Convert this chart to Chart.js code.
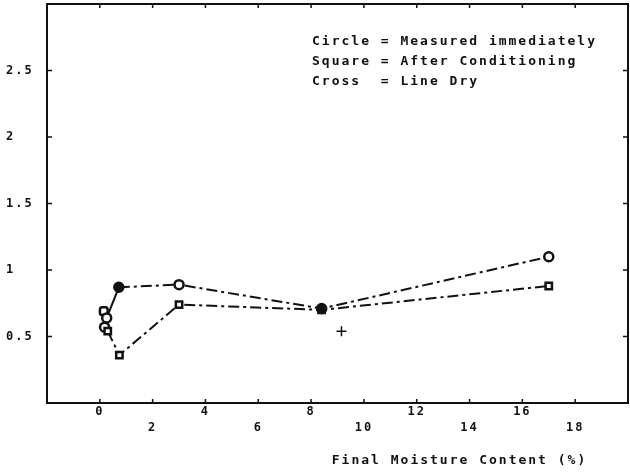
<!DOCTYPE html>
<html>
<head>
<meta charset="utf-8">
<title>Final Moisture Content</title>
<script src="https://cdn.jsdelivr.net/npm/chart.js@4.4.1/dist/chart.umd.min.js"></script>
<style>
  html, body { margin: 0; padding: 0; background: #fff; }
  #wrap { width: 630px; height: 474px; }
</style>
</head>
<body>
<div id="wrap"><canvas id="moisture"></canvas></div>
<script>
// measured immediately (circles), joined by the dash-dot line
const circleX = [0.26, 0.72, 3.0, 8.4, 17.0];
const circleY = [0.64, 0.87, 0.89, 0.71, 1.10];
// after conditioning (squares)
const squareX = [0.30, 0.74, 3.0, 8.4, 17.0];
const squareY = [0.54, 0.36, 0.74, 0.70, 0.88];
// loose readings near zero moisture, not joined
const looseCircleX = [0.18];
const looseCircleY = [0.57];
const looseSquareX = [0.15];
const looseSquareY = [0.69];
// line dry (cross)
const crossX = [9.15];
const crossY = [0.54];

const xTicks = [0, 2, 4, 6, 8, 10, 12, 14, 16, 18];
const yTicks = [0.5, 1, 1.5, 2, 2.5];
const legendLines = [
    "Circle = Measured immediately",
    "Square = After Conditioning",
    "Cross  = Line Dry"
];
const xTitle = "Final Moisture Content (%)";

const mono = "'DejaVu Sans Mono', monospace";
const ink = "#111";

function toPoints(xs, ys) {
    return xs.map((x, i) => ({ x: x, y: ys[i] }));
}

// frame, inward ticks and the free text
const framePlugin = {
    id: "frame",
    beforeDraw(chart) {
        chart.ctx.letterSpacing = "2px";
    },
    afterDraw(chart) {
        const ctx = chart.ctx;
        const area = chart.chartArea;
        const xs = chart.scales.x;
        const ys = chart.scales.y;
        ctx.save();
        ctx.strokeStyle = ink;
        ctx.lineWidth = 2;
        ctx.strokeRect(area.left, area.top, area.right - area.left, area.bottom - area.top);
        ctx.lineWidth = 1.5;
        ctx.beginPath();
        xTicks.forEach(v => {
            const px = xs.getPixelForValue(v);
            ctx.moveTo(px, area.bottom);
            ctx.lineTo(px, area.bottom - 4);
            ctx.moveTo(px, area.top);
            ctx.lineTo(px, area.top + 4);
        });
        yTicks.forEach(v => {
            const py = ys.getPixelForValue(v);
            ctx.moveTo(area.left, py);
            ctx.lineTo(area.left + 5, py);
            ctx.moveTo(area.right, py);
            ctx.lineTo(area.right - 5, py);
        });
        ctx.stroke();

        ctx.fillStyle = ink;
        ctx.letterSpacing = "2px";
        ctx.font = "bold 13px " + mono;
        ctx.textBaseline = "middle";
        ctx.textAlign = "left";
        legendLines.forEach((t, i) => {
            ctx.fillText(t, area.left + 265, area.top + 38 + i * 20);
        });
        ctx.textAlign = "center";
        ctx.fillText(xTitle, area.left + (area.right - area.left) * 0.71, 461);
        ctx.restore();
    }
};

const context = document.getElementById("moisture").getContext("2d");

const dashDot = [11, 4, 3, 4];

new Chart(context, {
    type: "scatter",
    data: {
        datasets: [
            {
                label: "Measured immediately",
                data: toPoints(circleX, circleY),
                showLine: true,
                borderColor: ink,
                borderWidth: 2,
                borderDash: dashDot,
                segment: { borderDash: c => c.p0DataIndex === 0 ? [] : dashDot },
                pointStyle: "circle",
                pointRadius: 4.5,
                pointBorderWidth: 2.5,
                pointBorderColor: ink,
                pointBackgroundColor: ["#fff", ink, "#fff", ink, "#fff"]
            },
            {
                label: "After Conditioning",
                data: toPoints(squareX, squareY),
                showLine: true,
                borderColor: ink,
                borderWidth: 2,
                borderDash: dashDot,
                pointStyle: "rect",
                pointRadius: 4.5,
                pointBorderWidth: 2.5,
                pointBorderColor: ink,
                pointBackgroundColor: ["#fff", "#fff", "#fff", ink, "#fff"]
            },
            {
                label: "Measured immediately (loose)",
                data: toPoints(looseCircleX, looseCircleY),
                pointStyle: "circle",
                pointRadius: 4.5,
                pointBorderWidth: 2.5,
                pointBorderColor: ink,
                pointBackgroundColor: "#fff"
            },
            {
                label: "After Conditioning (loose)",
                data: toPoints(looseSquareX, looseSquareY),
                pointStyle: "rectRounded",
                pointRadius: 4.5,
                pointBorderWidth: 2.5,
                pointBorderColor: ink,
                pointBackgroundColor: "#fff"
            },
            {
                label: "Line Dry",
                data: toPoints(crossX, crossY),
                pointStyle: "cross",
                pointRadius: 5,
                pointBorderWidth: 1.5,
                pointBorderColor: ink
            }
        ]
    },
    options: {
        responsive: true,
        maintainAspectRatio: false,
        animation: false,
        layout: { autoPadding: false, padding: { left: 6, top: 4, right: 2, bottom: 0 } },
        plugins: {
            legend: { display: false },
            tooltip: { enabled: false }
        },
        scales: {
            x: {
                type: "linear",
                min: -2,
                max: 20,
                afterBuildTicks: scale => {
                    scale.ticks = xTicks.map(v => ({ value: v }));
                },
                afterFit: scale => {
                    scale.height = 71;
                    scale.paddingLeft = 0;
                    scale.paddingRight = 0;
                },
                grid: { display: false, drawTicks: false },
                border: { display: false },
                ticks: {
                    color: ink,
                    padding: 1,
                    autoSkip: false,
                    maxRotation: 0,
                    font: { family: mono, size: 12, weight: "bold", lineHeight: 1.3 },
                    callback: (v, i) => i % 2 === 0 ? String(v) : ["", String(v)]
                }
            },
            y: {
                type: "linear",
                min: 0,
                max: 3,
                afterBuildTicks: scale => {
                    scale.ticks = yTicks.map(v => ({ value: v }));
                },
                afterFit: scale => {
                    scale.width = 41;
                    scale.paddingTop = 0;
                    scale.paddingBottom = 0;
                },
                grid: { display: false, drawTicks: false },
                border: { display: false },
                ticks: {
                    color: ink,
                    padding: 6,
                    crossAlign: "far",
                    font: { family: mono, size: 12, weight: "bold" },
                    callback: v => String(v)
                }
            }
        }
    },
    plugins: [framePlugin]
});
</script>
</body>
</html>
